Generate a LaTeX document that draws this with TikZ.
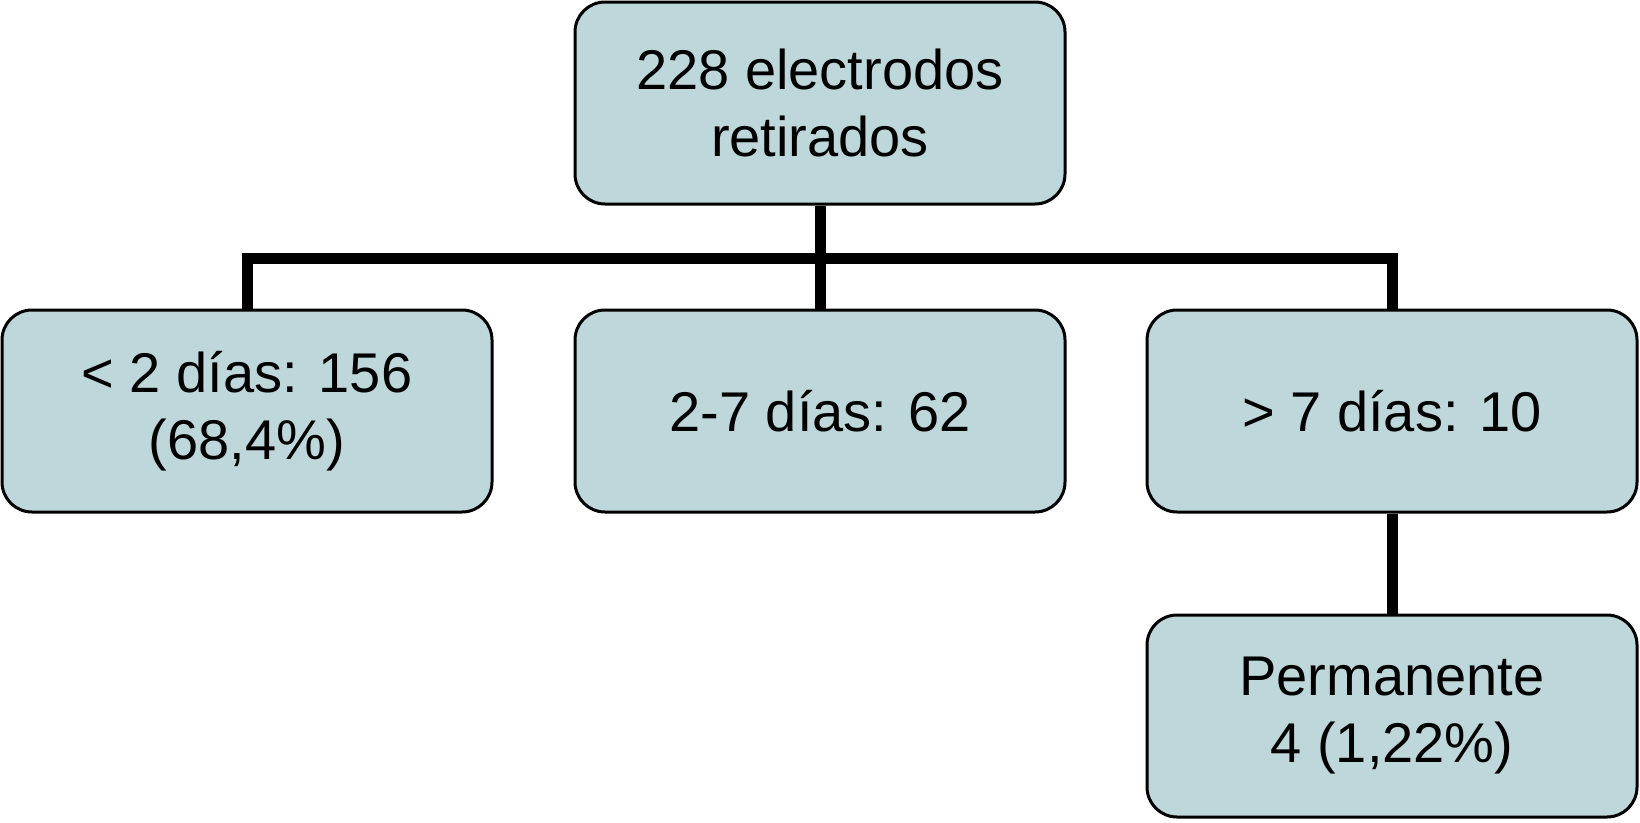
\documentclass[tikz,border=0pt]{standalone}
\usepackage{fontspec}
\setmainfont{Liberation Sans}
\usetikzlibrary{backgrounds}
\definecolor{boxfill}{RGB}{190,215,218}
\tikzset{
  boxnode/.style={draw=black, line width=3pt, fill=boxfill, rounded corners=30pt,
    minimum width=490pt, minimum height=202pt, align=center, inner sep=0pt,
    font=\fontsize{56}{67}\selectfont},
  conn/.style={line width=11pt, line join=miter, draw=black}
}
\begin{document}
\begin{tikzpicture}[x=1pt,y=-1pt]
\useasboundingbox (0,0) rectangle (1640,822);
\node[boxnode] (top) at (820,103) {228 electrodos\\retirados};
\node[boxnode] (left) at (247,411) {< 2 días: 156\\(68,4\%)};
\node[boxnode] (mid) at (820,411) {2-7 días: 62};
\node[boxnode] (right) at (1392,411) {> 7 días: 10};
\node[boxnode] (perm) at (1392,716) {Permanente\\4 (1,22\%)};
\coordinate (bar) at (820,258);
\begin{scope}[on background layer]
\draw[conn] (top.south) -- (mid.north);
\draw[conn] (left.north) |- (bar) -| (right.north);
\draw[conn] (right.south) -- (perm.north);
\end{scope}
\end{tikzpicture}
\end{document}
